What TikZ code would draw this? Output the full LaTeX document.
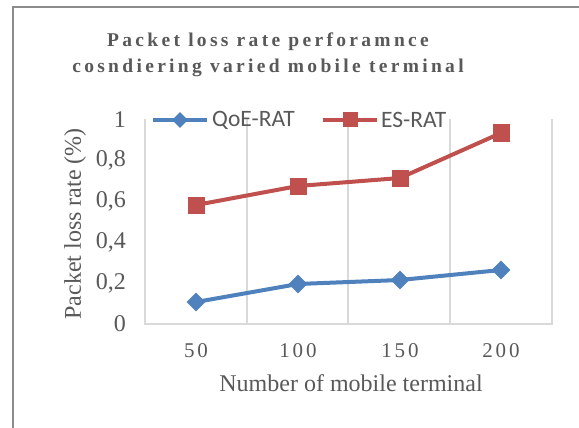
\documentclass[tikz,border=0pt]{standalone}
\usepackage{fontspec}
\setmainfont{Liberation Serif}
\newfontfamily\legendfont{Carlito}
\newfontfamily\spacedfont[LetterSpace=14]{Liberation Serif}
\newfontfamily\titlefont[LetterSpace=17]{Liberation Serif}
\usetikzlibrary{positioning,shapes.geometric}
\definecolor{qoeblue}{HTML}{4F81BD}
\definecolor{esred}{HTML}{C0504D}
\definecolor{txtgray}{HTML}{595959}
\definecolor{gridgray}{HTML}{D9D9D9}
\definecolor{framegray}{HTML}{8C8C8C}
\tikzset{
    every node/.style={inner sep=0pt, text=txtgray}
}
\tikzset{
    qoemark/.style={diamond, fill=qoeblue, minimum size=19pt},
    esmark/.style={rectangle, fill=esred, minimum size=17pt},
    qoeline/.style={qoeblue, line width=4pt},
    esline/.style={esred, line width=4pt},
    grid line/.style={gridgray, line width=1.5pt},
    ticklabel/.style={anchor=east, font=\fontsize{24}{28}\selectfont},
    catlabel/.style={font=\spacedfont\fontsize{21}{25}\selectfont},
    axistitle/.style={font=\fontsize{24}{28}\selectfont},
    legendtext/.style={anchor=west, font=\legendfont\fontsize{23.5}{27}\selectfont}
}

\begin{document}
\begin{tikzpicture}[x=1pt, y=-1pt]
  \useasboundingbox (0,0) rectangle (579,428);
  \fill[white] (0,0) rectangle (579,428);
  % chart frame (only top and left show)
  \draw[framegray, line width=2pt] (13,428) -- (13,7) -- (579,7);

  % title
  \node (t1) at (268,42) {\titlefont\bfseries\fontsize{19.5}{22}\selectfont Packet loss rate perforamnce};
  \node (t2) at (268,68) {\titlefont\bfseries\fontsize{19.5}{22}\selectfont cosndiering varied mobile terminal};

  % plot area
  \foreach \x in {247,348,450}
    \draw[grid line] (\x,119) -- (\x,324);
  \draw[grid line] (145,119) -- (145,324) -- (552,324) -- (552,119);

  % y ticks
  \node (y0) [ticklabel] at (126,324) {0};
  \node (y2) [ticklabel] at (126,283.2) {0,2};
  \node (y4) [ticklabel] at (126,242.4) {0,4};
  \node (y6) [ticklabel] at (126,201.6) {0,6};
  \node (y8) [ticklabel] at (126,160.8) {0,8};
  \node (y10) [ticklabel] at (126,120) {1};

  % categories
  \node (c50) [catlabel] at (196,351) {50};
  \node (c100) [catlabel] at (298,351) {100};
  \node (c150) [catlabel] at (400,351) {150};
  \node (c200) [catlabel] at (501,351) {200};

  % axis titles
  \node (xt) [axistitle] at (351,383) {Number of mobile terminal};
  \node (yt) [axistitle, rotate=90] at (75,224) {Packet loss rate (\%)};

  % ES-RAT
  \node (e1) [esmark] at (196,205) {};
  \node (e2) [esmark] at (298,186) {};
  \node (e3) [esmark] at (400,178) {};
  \node (e4) [esmark] at (501,133) {};
  \draw[esline] (e1.center) -- (e2.center) -- (e3.center) -- (e4.center);

  % QoE-RAT
  \node (q1) [qoemark] at (196,302) {};
  \node (q2) [qoemark] at (298,284) {};
  \node (q3) [qoemark] at (400,280) {};
  \node (q4) [qoemark] at (501,270) {};
  \draw[qoeline] (q1.center) -- (q2.center) -- (q3.center) -- (q4.center);

  % legend
  \coordinate (lq1) at (153,120);
  \coordinate (lq2) at (207,120);
  \draw[qoeline] (lq1) -- (lq2);
  \node (lqm) [qoemark, minimum size=16pt] at (180,120) {};
  \node (lqt) [legendtext] at (212,120) {QoE-RAT};
  \coordinate (le1) at (323,120);
  \coordinate (le2) at (377,120);
  \draw[esline] (le1) -- (le2);
  \node (lem) [esmark, minimum size=15pt] at (350,120) {};
  \node (let) [legendtext] at (381,120) {ES-RAT};
\end{tikzpicture}
\end{document}
